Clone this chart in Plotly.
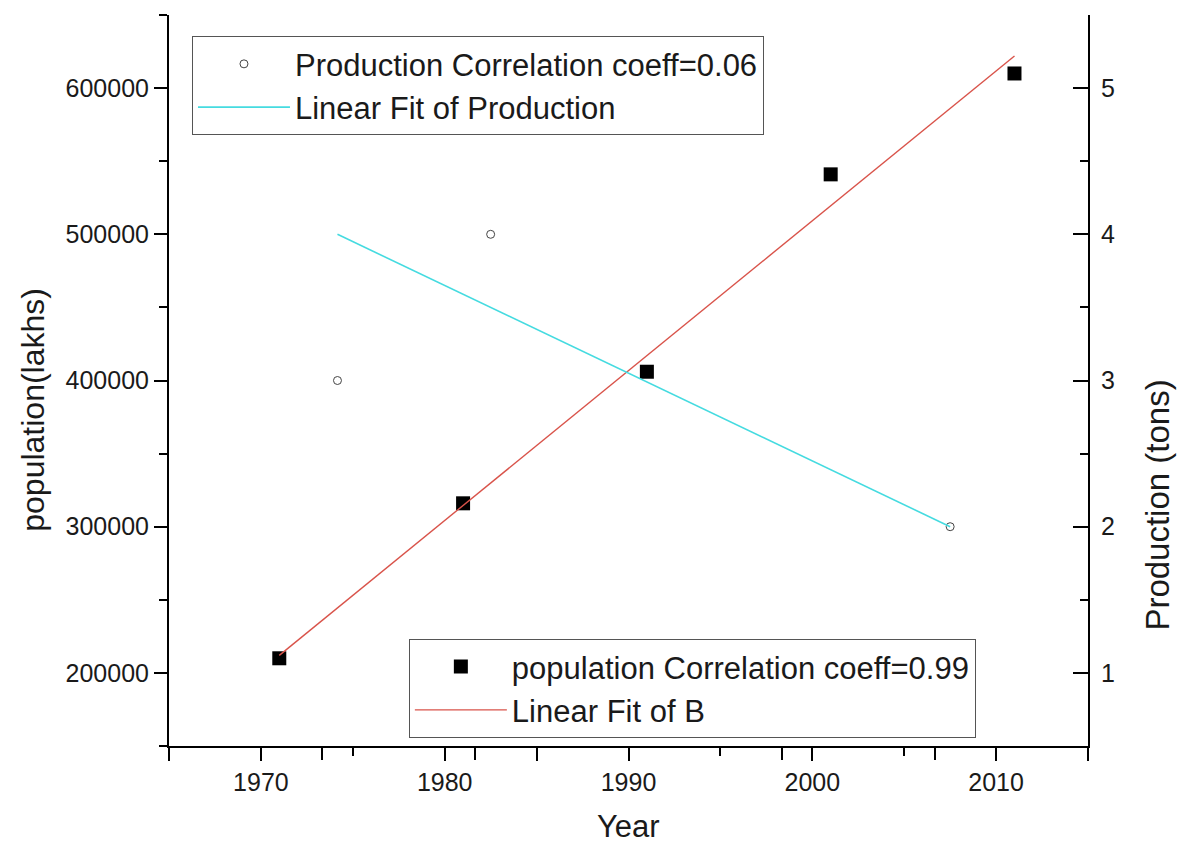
import plotly.graph_objects as go

# Population (census years) - left axis
pop_years = [1971, 1981, 1991, 2001, 2011]
pop_values = [210000, 316000, 406000, 541000, 610000]
pop_fit_years = [1971, 2011]
pop_fit_values = [212000, 622000]

# Production - right axis (own x layer, 1960-2020)
prod_years = [1971, 1981, 2011]
prod_values = [3.0, 4.0, 2.0]
prod_fit_years = [1971, 2011]
prod_fit_values = [4.0, 2.0]

x_tickvals = [1965, 1970, 1980, 1985, 1990, 2000, 2010, 2015]
x_ticktext = ["", "1970", "1980", "", "1990", "2000", "2010", ""]

FONT = "Liberation Sans, Arial, sans-serif"
TXT = "#1a1a1a"

fig = go.Figure()

fig.add_trace(go.Scatter(
    x=prod_years, y=prod_values, xaxis="x3", yaxis="y2", mode="markers",
    name="Production Correlation coeff=0.06",
    marker=dict(symbol="circle-open", size=8, color="#444444", line=dict(width=1)),
    legend="legend"))
fig.add_trace(go.Scatter(
    x=prod_fit_years, y=prod_fit_values, xaxis="x3", yaxis="y2", mode="lines",
    name="Linear Fit of Production", line=dict(color="#45dbe0", width=1.6),
    legend="legend"))
fig.add_trace(go.Scatter(
    x=pop_years, y=pop_values, mode="markers",
    name="population Correlation coeff=0.99",
    marker=dict(symbol="square", size=14, color="black"),
    legend="legend2"))
fig.add_trace(go.Scatter(
    x=pop_fit_years, y=pop_fit_values, mode="lines",
    name="Linear Fit of B", line=dict(color="#d9534a", width=1.4),
    legend="legend2"))

axis_common = dict(showgrid=False, zeroline=False, linecolor="black", linewidth=2,
                   tickcolor="black", tickwidth=2)

fig.update_layout(
    width=1177, height=845,
    margin=dict(l=169, r=89, t=15, b=99),
    paper_bgcolor="white", plot_bgcolor="white",
    font=dict(family=FONT, color=TXT),
    xaxis=dict(range=[1965, 2015], tickvals=x_tickvals, ticktext=x_ticktext,
               ticks="outside", ticklen=13, showline=True,
               tickfont=dict(size=25),
               minor=dict(tickvals=[1975, 1995, 2005], ticks="outside", ticklen=8,
                          tickwidth=2, tickcolor="black"),
               **axis_common),
    xaxis2=dict(range=[1965, 2015], overlaying="x", side="top", anchor="y",
                tickvals=[1970, 1980, 1990, 2000, 2010], ticks="inside", ticklen=14,
                showticklabels=False, showline=True,
                minor=dict(dtick=5, tick0=1965, ticks="inside", ticklen=8,
                           tickwidth=2, tickcolor="black"),
                **axis_common),
    xaxis3=dict(range=[1960, 2020], overlaying="x", side="bottom", anchor="y",
                dtick=10, tick0=1960, ticks="outside", ticklen=13,
                showticklabels=False, showline=False,
                **axis_common),
    yaxis=dict(range=[150000, 650000], dtick=100000, tick0=0, tickformat="d",
               ticks="outside", ticklen=13, showline=True,
               tickfont=dict(size=25),
               minor=dict(dtick=50000, tick0=0, ticks="outside", ticklen=8,
                          tickwidth=2, tickcolor="black"),
               **axis_common),
    yaxis2=dict(range=[0.5, 5.5], dtick=1, tick0=0, overlaying="y", side="right",
                anchor="x", ticks="inside", ticklen=15, showline=True,
                tickfont=dict(size=25), ticklabelstandoff=6,
                minor=dict(dtick=0.5, tick0=0, ticks="inside", ticklen=8,
                           tickwidth=2, tickcolor="black"),
                **axis_common),
    legend=dict(x=0.025, y=0.971, xanchor="left", yanchor="top",
                bgcolor="white", bordercolor="#555555", borderwidth=1,
                font=dict(size=31, family=FONT, color=TXT),
                itemwidth=92, tracegroupgap=0),
    legend2=dict(x=0.261, y=0.011, xanchor="left", yanchor="bottom",
                 bgcolor="white", bordercolor="#555555", borderwidth=1,
                 font=dict(size=31, family=FONT, color=TXT),
                 itemwidth=92, tracegroupgap=0),
    annotations=[
        dict(text="Year", xref="paper", yref="paper", x=0.5, y=-0.11,
             xanchor="center", yanchor="middle", showarrow=False,
             font=dict(size=31, family=FONT, color=TXT)),
        dict(text="population(lakhs)", xref="paper", yref="paper", x=-0.148, y=0.46,
             xanchor="center", yanchor="middle", textangle=-90, showarrow=False,
             font=dict(size=32, family=FONT, color=TXT)),
        dict(text="Production (tons)", xref="paper", yref="paper", x=1.076, y=0.33,
             xanchor="center", yanchor="middle", textangle=-90, showarrow=False,
             font=dict(size=33, family=FONT, color=TXT)),
    ],
)

fig.write_html("out.html")
